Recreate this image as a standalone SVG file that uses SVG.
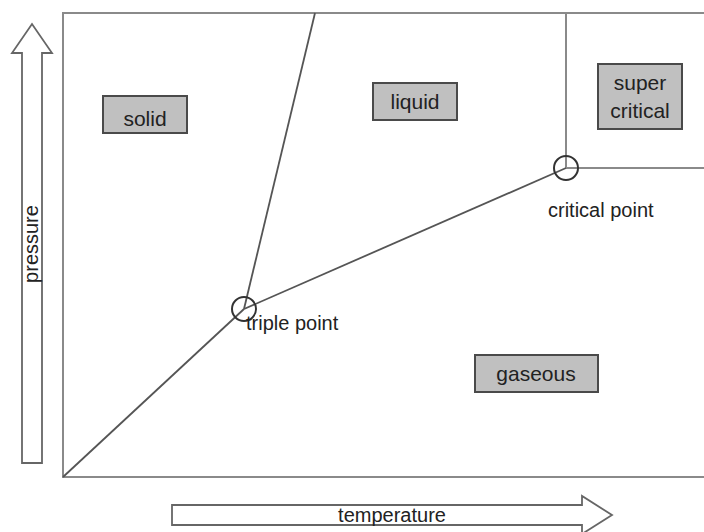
<svg xmlns="http://www.w3.org/2000/svg" width="704" height="532" viewBox="0 0 704 532">
  <style>
    .frame { fill: none; stroke: #8a8a8a; stroke-width: 2; }
    .curve { fill: none; stroke: #555; stroke-width: 1.8; }
    .axis { fill: #fff; stroke: #666; stroke-width: 1.8; stroke-linejoin: miter; }
    .box { fill: #c0c0c0; stroke: #4a4a4a; stroke-width: 2; }
    .pt { fill: none; stroke: #333; stroke-width: 2; }
    text { font-family: "Liberation Sans", Arial, sans-serif; font-size: 20px; fill: #222; }
    .mid { text-anchor: middle; }
  </style>
  <rect width="704" height="532" fill="#fff"/>

  <!-- axes -->
  <g id="pressure-axis">
    <polygon class="axis" points="22,463 22,53 12,53 32,24 52,53 42,53 42,463"/>
    <text class="mid" transform="translate(38,244) rotate(-90)">pressure</text>
  </g>
  <g id="temperature-axis">
    <polygon class="axis" points="172,505 582,505 582,496 612,515 582,534 582,525 172,525"/>
    <text class="mid" x="392" y="522">temperature</text>
  </g>

  <!-- plot frame -->
  <g id="frame">
    <polyline class="frame" points="706,13 63,13 63,477 706,477"/>
    <polyline class="frame" points="566,13 566,168 706,168"/>
  </g>

  <!-- phase boundaries -->
  <g id="connectors">
    <line class="curve" x1="63" y1="477" x2="244" y2="309"/>
    <line class="curve" x1="244" y1="309" x2="315" y2="13"/>
    <line class="curve" x1="244" y1="309" x2="566" y2="168"/>
  </g>

  <g id="triple-point">
    <circle class="pt" cx="244" cy="309" r="12"/>
    <text x="246" y="330">triple point</text>
  </g>
  <g id="critical-point">
    <circle class="pt" cx="566" cy="168" r="12"/>
    <text x="548" y="217">critical point</text>
  </g>

  <g id="solid">
    <rect class="box" x="103" y="96" width="84" height="37"/>
    <text class="mid" x="145" y="126" style="font-size:21px">solid</text>
  </g>
  <g id="liquid">
    <rect class="box" x="373" y="83" width="84" height="37"/>
    <text class="mid" x="415" y="109" style="font-size:21px">liquid</text>
  </g>
  <g id="gaseous">
    <rect class="box" x="475" y="355" width="123" height="37"/>
    <text class="mid" x="536" y="381" style="font-size:21px">gaseous</text>
  </g>
  <g id="supercritical">
    <rect class="box" x="598" y="64" width="84" height="65"/>
    <text class="mid" x="640" y="90" style="font-size:21px">super</text>
    <text class="mid" x="640" y="118" style="font-size:21px">critical</text>
  </g>
</svg>
